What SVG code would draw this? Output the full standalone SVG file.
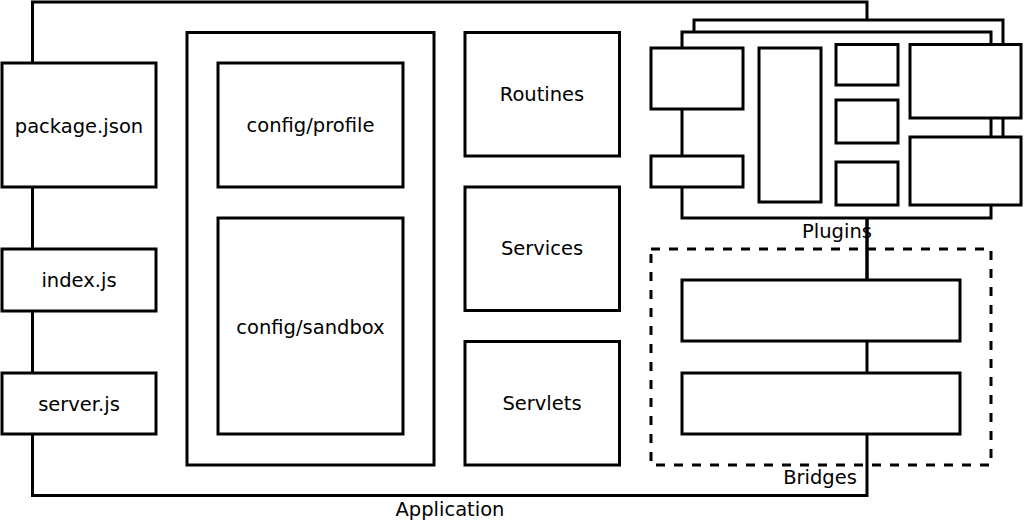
<svg xmlns="http://www.w3.org/2000/svg" width="1024" height="522" viewBox="0 0 1024 522">
<style>
.box{fill:#fff;stroke:#000;stroke-width:3}
.frame{fill:none;stroke:#000;stroke-width:3}
.dash{fill:none;stroke:#000;stroke-width:3;stroke-dasharray:9 9}
text{font-family:"DejaVu Sans","Liberation Sans",sans-serif;font-size:19.5px;fill:#000;text-anchor:middle}
</style>
<rect width="1024" height="522" fill="#fff"/>
<g id="application">
<rect class="frame" x="32.5" y="2" width="834.5" height="493.5"/>
<text x="450" y="516">Application</text>
</g>
<g id="connectors">
<line x1="867" y1="218" x2="867" y2="280" stroke="#000" stroke-width="3"/>
</g>
<g id="package-json"><rect class="box" x="2" y="63" width="154" height="124"/><text x="79" y="133">package.json</text></g>
<g id="index-js"><rect class="box" x="2" y="249" width="154" height="62"/><text x="79" y="287">index.js</text></g>
<g id="server-js"><rect class="box" x="2" y="373" width="154" height="61"/><text x="79" y="411">server.js</text></g>
<g id="config"><rect class="box" x="187" y="32.5" width="247" height="432.5"/></g>
<g id="config-profile"><rect class="box" x="218" y="63" width="185" height="124"/><text x="310.5" y="132">config/profile</text></g>
<g id="config-sandbox"><rect class="box" x="218" y="218" width="185" height="216"/><text x="310.5" y="334">config/sandbox</text></g>
<g id="routines"><rect class="box" x="465" y="32.5" width="154.5" height="123.5"/><text x="542" y="101">Routines</text></g>
<g id="services"><rect class="box" x="465" y="187" width="154.5" height="123.5"/><text x="542" y="255">Services</text></g>
<g id="servlets"><rect class="box" x="465" y="341.5" width="154.5" height="123.5"/><text x="542" y="410">Servlets</text></g>
<g id="plugins">
<rect class="box" x="694" y="20" width="309" height="182"/>
<rect class="box" x="682" y="32" width="309" height="186"/>
<rect class="box" x="651" y="48" width="92" height="61"/>
<rect class="box" x="651" y="156" width="92" height="31"/>
<rect class="box" x="759" y="48" width="62" height="154"/>
<rect class="box" x="836" y="44.5" width="62" height="40.5"/>
<rect class="box" x="836" y="100" width="62" height="43"/>
<rect class="box" x="836" y="162" width="62" height="43"/>
<rect class="box" x="910" y="44.5" width="111" height="73.5"/>
<rect class="box" x="910" y="137" width="111" height="68"/>
<text x="837" y="238">Plugins</text>
</g>
<g id="bridges">
<rect class="dash" x="651" y="249" width="340" height="216"/>
<rect class="box" x="682" y="280" width="278" height="61"/>
<rect class="box" x="682" y="373" width="278" height="61"/>
<text x="820" y="484">Bridges</text>
</g>
</svg>
